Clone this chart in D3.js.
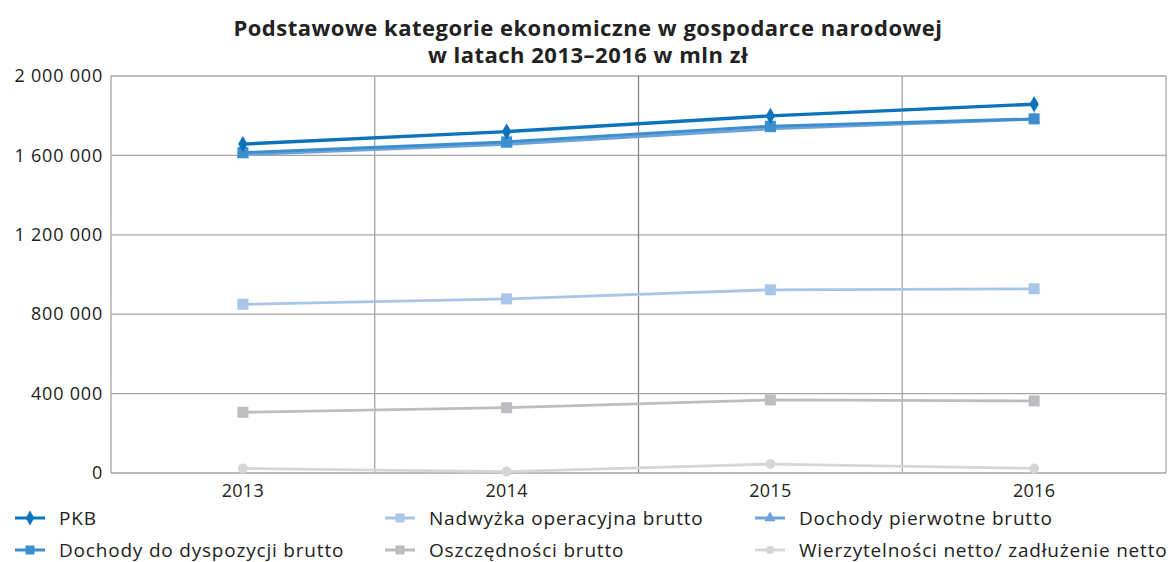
<!DOCTYPE html>
<html>
<head>
<meta charset="utf-8">
<title>Podstawowe kategorie ekonomiczne</title>
<script src="https://cdn.jsdelivr.net/npm/d3@7"></script>
<style>
  body { margin: 0; background: #fff; }
  svg text { font-family: "Open Sans", "DejaVu Sans", sans-serif; fill: #222; }
</style>
</head>
<body>
<div id="chart"></div>
<script>
  // data, mln zl
  var years = ["2013", "2014", "2015", "2016"];
  var pkb          = [1657000, 1720000, 1799000, 1858000];
  var dyspozycji   = [1614000, 1668000, 1747000, 1784000];
  var pierwotne    = [1603000, 1656000, 1734000, 1783000];
  var nadwyzka     = [850000, 877000, 923000, 928000];
  var oszczednosci = [306000, 329000, 368000, 363000];
  var wierzyt      = [23000, 7000, 45000, 23000];
  var yTicks = [0, 400000, 800000, 1200000, 1600000, 2000000];

  var series = [
    {name: "PKB", values: pkb, color: "#0b72bb", shape: "diamond", width: 3.4, order: 5},
    {name: "Nadwyżka operacyjna brutto", values: nadwyzka, color: "#a9c5e8", shape: "square", width: 2.8, order: 2},
    {name: "Dochody pierwotne brutto", values: pierwotne, color: "#6ea3da", shape: "triangle", width: 3, order: 3},
    {name: "Dochody do dyspozycji brutto", values: dyspozycji, color: "#3d8ecf", shape: "square", width: 3, order: 4},
    {name: "Oszczędności brutto", values: oszczednosci, color: "#bdbdc1", shape: "square", width: 2.8, order: 1},
    {name: "Wierzytelności netto/ zadłużenie netto", values: wierzyt, color: "#d6d6d6", shape: "circle", width: 2.8, order: 0}
  ];

  var width = 1174, height = 562;
  var margin = {left: 111, right: 8, top: 76, bottom: 89};

  var svg = d3.select("#chart").append("svg")
    .attr("width", width).attr("height", height);

  var x = d3.scaleBand().domain(years).range([margin.left, width - margin.right]);
  var y = d3.scaleLinear().domain([0, 2000000]).range([height - margin.bottom, margin.top]);

  var fmt = function(v) { return d3.format(",")(v).replace(/,/g, " "); };

  // title
  var title = svg.append("text").attr("text-anchor", "middle")
    .style("font-weight", "bold").style("font-size", "22px").style("letter-spacing", "0.5px");
  title.append("tspan").attr("x", 588).attr("y", 36).text("Podstawowe kategorie ekonomiczne w gospodarce narodowej");
  title.append("tspan").attr("x", 588).attr("y", 63).text("w latach 2013–2016 w mln zł");

  // grid
  svg.append("g").selectAll("line").data(yTicks).join("line")
    .attr("x1", margin.left).attr("x2", width - margin.right)
    .attr("y1", d => y(d)).attr("y2", d => y(d))
    .attr("stroke", "#a6a6a6").attr("stroke-width", 1.3);

  var bounds = years.map(d => x(d)).concat([x.range()[1]]);
  svg.append("g").selectAll("line").data(bounds).join("line")
    .attr("x1", d => d).attr("x2", d => d)
    .attr("y1", margin.top).attr("y2", y(0))
    .attr("stroke", (d, i) => i == 2 ? "#888" : "#a6a6a6").attr("stroke-width", 1.3);

  // axes
  var yAxis = svg.append("g")
    .attr("transform", "translate(" + (margin.left) + ",0)")
    .call(d3.axisLeft(y).tickValues(yTicks).tickFormat(fmt).tickSize(0).tickPadding(8));
  yAxis.select(".domain").remove();
  yAxis.selectAll("text").style("font-size", "18px").style("letter-spacing", "0.8px")
    .style("font-family", "'Open Sans', sans-serif").attr("fill", "#222");

  var xAxis = svg.append("g")
    .attr("transform", "translate(0," + y(0) + ")")
    .call(d3.axisBottom(x).tickSize(0).tickPadding(11));
  xAxis.select(".domain").remove();
  xAxis.selectAll("text").style("font-size", "18px").style("letter-spacing", "0.3px")
    .style("font-family", "'Open Sans', sans-serif").attr("fill", "#222");

  function marker(g, shape, color, size) {
    if (shape == "diamond") {
      g.append("path").attr("d", d3.symbol(d3.symbolDiamond, size * 7)()).attr("fill", color);
    } else if (shape == "square") {
      g.append("rect").attr("x", -size / 2).attr("y", -size / 2).attr("width", size).attr("height", size).attr("fill", color);
    } else if (shape == "triangle") {
      g.append("path").attr("d", d3.symbol(d3.symbolTriangle, size * 6)()).attr("fill", color);
    } else {
      g.append("circle").attr("r", size / 2.2).attr("fill", color);
    }
  }

  var line = d3.line().x((d, i) => x(years[i]) + x.bandwidth() / 2).y(d => y(d));

  var drawOrder = series.slice().sort((a, b) => a.order - b.order);
  drawOrder.forEach(function(s) {
    svg.append("path").datum(s.values)
      .attr("d", line).attr("fill", "none")
      .attr("stroke", s.color).attr("stroke-width", s.width);
    s.values.forEach(function(v, i) {
      var g = svg.append("g").attr("transform", "translate(" + (x(years[i]) + x.bandwidth() / 2) + "," + y(v) + ")");
      marker(g, s.shape, s.color, 11);
    });
  });

  // legend
  var legX = [15, 385, 755], legY = [518, 550];
  series.forEach(function(s, i) {
    var col = i % 3, row = Math.floor(i / 3);
    var g = svg.append("g").attr("transform", "translate(" + legX[col] + "," + legY[row] + ")");
    g.append("line").attr("x1", 0).attr("x2", 30).attr("y1", 0).attr("y2", 0)
      .attr("stroke", s.color).attr("stroke-width", 3);
    var m = g.append("g").attr("transform", "translate(15,0)");
    marker(m, s.shape, s.color, 9);
    g.append("text").attr("x", 44).attr("y", 6.5)
      .style("font-size", "19px").style("letter-spacing", "0.8px").text(s.name);
  });
</script>
</body>
</html>
